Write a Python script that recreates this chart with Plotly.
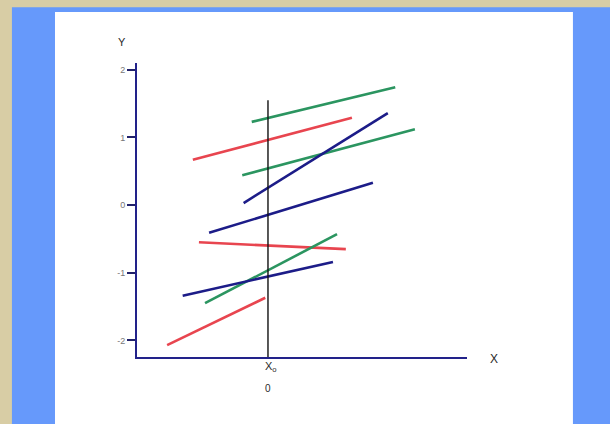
import plotly.graph_objects as go

# segment endpoints (x measured from x0, y in axis units)
x_start = [-0.24, -1.11, -0.38, -0.36, -0.87, -1.02, -0.93, -1.26, -1.49]
y_start = [1.23, 0.67, 0.44, 0.03, -0.41, -0.55, -1.45, -1.34, -2.07]
x_end = [1.88, 1.24, 2.17, 1.77, 1.55, 1.15, 1.02, 0.96, -0.04]
y_end = [1.74, 1.29, 1.12, 1.36, 0.33, -0.65, -0.43, -0.84, -1.37]
groups = ["green", "red", "green", "blue", "blue", "red", "green", "blue", "red"]

# reference line at x0
x0_line_x = [0, 0]
x0_line_y = [1.55, -2.245]

y_ticks = [2, 1, 0, -1, -2]
y_tick_text = ["2", "1", "0", "-1", "-2"]

palette = {"red": "#e8454f", "green": "#2b9560", "blue": "#1c1c88"}

fig = go.Figure()

for xs, ys, xe, ye, g in zip(x_start, y_start, x_end, y_end, groups):
    fig.add_trace(go.Scatter(x=[xs, xe], y=[ys, ye], mode="lines",
                             line=dict(color=palette[g], width=2.6),
                             showlegend=False, hoverinfo="skip"))

fig.add_trace(go.Scatter(x=x0_line_x, y=x0_line_y, mode="lines",
                         line=dict(color="#111111", width=1.4),
                         showlegend=False, hoverinfo="skip", cliponaxis=False))

# page background: blue panel with white card
fig.add_shape(type="rect", xref="paper", yref="paper", x0=-0.379, x1=1.6, y0=-0.4, y1=1.19,
              fillcolor="#6699fb", line_width=0, layer="below")
fig.add_shape(type="rect", xref="paper", yref="paper", x0=-0.2485, x1=1.321, y0=-0.4, y1=1.1735,
              fillcolor="#ffffff", line_width=0, layer="below")


def label(text, x, y, size, xref="paper"):
    fig.add_annotation(text=text, xref=xref, yref="paper", x=x, y=y, xanchor="center",
                       yanchor="middle", showarrow=False, font=dict(size=size, color="#2a2a2a"))


label("Y", (122 - 137) / 330, (357 - 42) / 294, 11)
label("X", (494 - 137) / 330, (357 - 359) / 294, 12)
label("X<sub>o</sub>", 0.04, (357 - 367) / 294, 11, xref="x")
label("0", 0, (357 - 389) / 294, 10, xref="x")

fig.update_xaxes(range=[-1.935, 2.94], showgrid=False, zeroline=False, showticklabels=False,
                 showline=True, linecolor="#22228a", linewidth=2, ticks="")
fig.update_yaxes(range=[-2.245, 2.10], showgrid=False, zeroline=False,
                 tickvals=y_ticks, ticktext=y_tick_text, ticks="outside", ticklen=8,
                 tickwidth=2, tickcolor="#22226a", tickfont=dict(size=9, color="#777777"),
                 showline=True, linecolor="#22228a", linewidth=2)

fig.update_layout(width=610, height=424, margin=dict(l=137, r=143, t=63, b=67),
                  paper_bgcolor="#d8cda5", plot_bgcolor="rgba(0,0,0,0)",
                  font=dict(family="Liberation Sans, Arial, sans-serif"))

# drop the default page margin so the figure sits at the window's corner
fig.write_html("out.html", config={"displayModeBar": False},
               post_script="document.body.style.margin='0';document.body.style.background='#d8cda5';")
